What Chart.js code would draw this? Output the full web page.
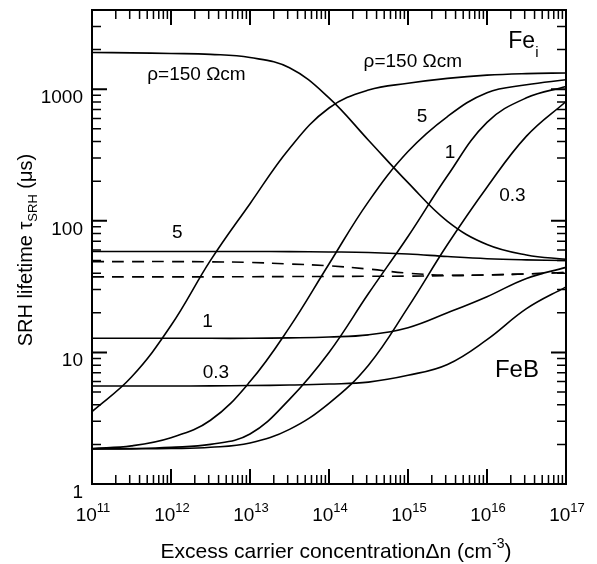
<!DOCTYPE html>
<html>
<head>
  <meta charset="utf-8">
  <title>SRH lifetime vs excess carrier concentration</title>
  <script src="https://cdn.jsdelivr.net/npm/chart.js@4.4.0/dist/chart.umd.min.js"></script>
  <style>
    html, body { margin: 0; padding: 0; background: #ffffff; }
  </style>
</head>
<body>
<canvas id="myChart" width="597" height="564"></canvas>
<script>
  // excess carrier concentration, half-decade steps (cm^-3)
  const dn = [1e11, 3.16e11, 1e12, 3.16e12, 1e13, 3.16e13, 1e14, 3.16e14, 1e15, 3.16e15, 1e16, 3.16e16, 1e17];

  // interstitial iron Fe_i, lifetime in us
  const fei150 = [3.55, 6.5, 16, 50, 135, 355, 720, 985, 1110, 1210, 1280, 1315, 1330];
  const fei5   = [1.86, 1.95, 2.25, 3.05, 6.0, 15.5, 47, 140, 336, 620, 940, 1080, 1180];
  const fei1   = [1.85, 1.86, 1.9, 2.0, 2.4, 4.4, 10, 28, 76, 220, 560, 860, 1050];
  const fei03  = [1.85, 1.85, 1.86, 1.9, 2.05, 2.6, 4.1, 8, 22, 66, 180, 440, 807];

  // iron-boron pairs FeB
  const feb150 = [1900, 1890, 1870, 1840, 1740, 1455, 860, 410, 195, 99, 66, 55, 51];
  const feb5   = [58.5, 58.5, 58.5, 58.5, 58.5, 58.3, 58, 57.5, 56, 53.5, 51.5, 50.5, 50];
  const feb1   = [12.8, 12.8, 12.8, 12.8, 12.8, 12.9, 13.1, 13.6, 15.4, 20, 26.5, 36.5, 44.3];
  const feb03  = [5.55, 5.55, 5.55, 5.57, 5.6, 5.65, 5.75, 5.95, 6.7, 8.1, 12.5, 21.5, 31.5];

  // dashed curves
  const dashUp  = [49, 49, 49, 48.8, 48.3, 47, 45.5, 43, 40, 38.6, 38.8, 39.5, 40.5];
  const dashLow = [37.5, 37.5, 37.5, 37.5, 37.6, 37.7, 37.8, 37.9, 38, 38.3, 38.8, 39.5, 40.5];

  // axis ticks
  const xDecades = [11, 12, 13, 14, 15, 16, 17];
  const yLabels = [1, 10, 100, 1000];

  // text inside the plot (data coordinates)
  const notes = [
    { text: 'ρ=150 Ωcm', x: 2.1e12, y: 1285 },
    { text: 'ρ=150 Ωcm', x: 1.15e15, y: 1615 },
    { text: '5', x: 1.5e15, y: 617 },
    { text: '1', x: 3.4e15, y: 329 },
    { text: '0.3', x: 2.1e16, y: 155 },
    { text: '5', x: 1.2e12, y: 81 },
    { text: '1', x: 2.9e12, y: 17.1 },
    { text: '0.3', x: 3.7e12, y: 7.0 }
  ];

  const FONT = '"Liberation Sans", Arial, Helvetica, sans-serif';

  function curve(ys, dash) {
    return {
      data: dn.map((x, i) => ({ x: x, y: ys[i] })),
      borderColor: '#000000',
      borderWidth: 1.6,
      borderDash: dash || [],
      pointRadius: 0,
      fill: false,
      tension: 0.4
    };
  }

  // draws pieces of text one after another: [{t, size, dy}]
  function richText(ctx, parts, x, y, align) {
    let total = 0;
    parts.forEach(p => {
      ctx.font = p.size + 'px ' + FONT;
      p.w = ctx.measureText(p.t).width;
      total += p.w;
    });
    let cx = x;
    if (align === 'center') cx = x - total / 2;
    ctx.textAlign = 'left';
    parts.forEach(p => {
      ctx.font = p.size + 'px ' + FONT;
      ctx.fillText(p.t, cx, y + (p.dy || 0));
      cx += p.w;
    });
  }

  const frame = {
    id: 'frame',
    afterDraw(chart) {
      const ctx = chart.ctx;
      const a = chart.chartArea;
      const xs = chart.scales.x;
      const ys = chart.scales.y;
      ctx.save();
      ctx.strokeStyle = '#000';
      ctx.fillStyle = '#000';
      ctx.lineWidth = 2;
      ctx.strokeRect(a.left, a.top, a.right - a.left, a.bottom - a.top);

      // inward ticks on all four sides
      const tickX = (px, len) => {
        ctx.beginPath();
        ctx.moveTo(px, a.bottom); ctx.lineTo(px, a.bottom - len);
        ctx.moveTo(px, a.top); ctx.lineTo(px, a.top + len);
        ctx.stroke();
      };
      const tickY = (py, len) => {
        ctx.beginPath();
        ctx.moveTo(a.left, py); ctx.lineTo(a.left + len, py);
        ctx.moveTo(a.right, py); ctx.lineTo(a.right - len, py);
        ctx.stroke();
      };
      xDecades.forEach(e => {
        ctx.lineWidth = 2;
        tickX(xs.getPixelForValue(Math.pow(10, e)), 15);
        if (e < 17) {
          ctx.lineWidth = 1.5;
          for (let k = 2; k <= 9; k++) tickX(xs.getPixelForValue(k * Math.pow(10, e)), 9);
        }
      });
      for (let e = 0; e <= 3; e++) {
        ctx.lineWidth = 2;
        tickY(ys.getPixelForValue(Math.pow(10, e)), 15);
        ctx.lineWidth = 1.5;
        for (let k = 2; k <= 9; k++) {
          const v = k * Math.pow(10, e);
          if (v < 4000) tickY(ys.getPixelForValue(v), 9);
        }
      }

      // y tick labels
      ctx.textBaseline = 'alphabetic';
      ctx.font = '19px ' + FONT;
      ctx.textAlign = 'right';
      yLabels.forEach(v => {
        ctx.fillText(String(v), a.left - 9, ys.getPixelForValue(v) + 14);
      });

      // x tick labels 10^n
      xDecades.forEach(e => {
        const px = xs.getPixelForValue(Math.pow(10, e));
        richText(ctx, [{ t: '10', size: 19 }, { t: String(e), size: 13, dy: -9 }], px + 1, a.bottom + 37, 'center');
      });

      // notes in the plot
      ctx.textBaseline = 'middle';
      ctx.textAlign = 'center';
      ctx.font = '19px ' + FONT;
      notes.forEach(n => {
        ctx.fillText(n.text, xs.getPixelForValue(n.x), ys.getPixelForValue(n.y));
      });
      ctx.textBaseline = 'alphabetic';
      richText(ctx, [{ t: 'Fe', size: 23 }, { t: 'i', size: 15, dy: 9 }], xs.getPixelForValue(1.86e16), ys.getPixelForValue(2050), 'left');
      richText(ctx, [{ t: 'FeB', size: 24 }], xs.getPixelForValue(1.26e16), ys.getPixelForValue(6.55), 'left');

      // axis titles
      richText(ctx, [
        { t: 'Excess carrier concentrationΔn (cm', size: 21 },
        { t: '-3', size: 14, dy: -10 },
        { t: ')', size: 21 }
      ], (a.left + a.right) / 2 + 7, 558, 'center');

      ctx.translate(32, (a.top + a.bottom) / 2 + 3);
      ctx.rotate(-Math.PI / 2);
      richText(ctx, [
        { t: 'SRH lifetime τ', size: 20 },
        { t: 'SRH', size: 13, dy: 5 },
        { t: ' (μs)', size: 20 }
      ], 0, 0, 'center');
      ctx.restore();
    }
  };

  const ctx = document.getElementById('myChart').getContext('2d');
  const myChart = new Chart(ctx, {
    type: 'line',
    data: {
      datasets: [
        curve(fei150), curve(fei5), curve(fei1), curve(fei03),
        curve(feb150), curve(feb5), curve(feb1), curve(feb03),
        curve(dashUp, [12, 8]), curve(dashLow, [12, 8])
      ]
    },
    options: {
      responsive: false,
      animation: false,
      layout: { padding: { left: 92, right: 31, top: 10, bottom: 80 } },
      plugins: { legend: { display: false }, tooltip: { enabled: false } },
      scales: {
        x: { type: 'logarithmic', min: 1e11, max: 1e17, display: false },
        y: { type: 'logarithmic', min: 1, max: 4000, display: false }
      }
    },
    plugins: [frame]
  });
</script>
</body>
</html>
